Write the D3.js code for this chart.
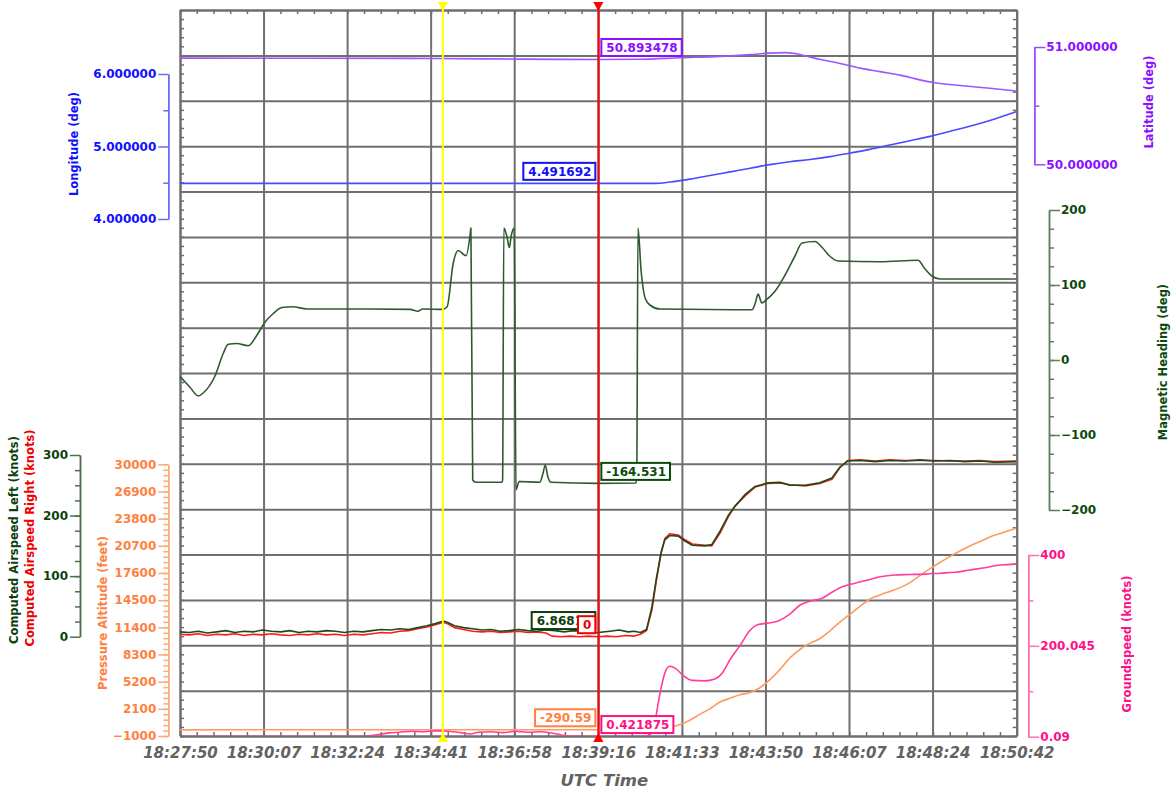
<!DOCTYPE html>
<html>
<head>
<meta charset="utf-8">
<script src="https://cdn.jsdelivr.net/npm/d3@7"></script>
<style>
  body { margin: 0; background: #fff; }
  text { font-family: "DejaVu Sans", Verdana, sans-serif; }
</style>
</head>
<body>
<div id="chart-area"></div>
<script>
const WIDTH = 1176
const HEIGHT = 793
const PLOT = { LEFT: 180, RIGHT: 1016.7, TOP: 10, BOTTOM: 736 }

// time axis
const timeLabels = ["18:27:50", "18:30:07", "18:32:24", "18:34:41", "18:36:58", "18:39:16",
  "18:41:33", "18:43:50", "18:46:07", "18:48:24", "18:50:42"]
const cursorTimes = ["18:35:01", "18:39:16"]

// series: [seconds after 18:27:50, value]
const longitude = [[0, 4.4915], [300, 4.4916], [686, 4.491692], [780, 4.4918], [803, 4.51], [836, 4.55],
  [869, 4.60], [902, 4.65], [935, 4.70], [967, 4.75], [1000, 4.79], [1033, 4.82], [1066, 4.86],
  [1099, 4.91], [1131, 4.96], [1164, 5.02], [1197, 5.08], [1230, 5.14], [1263, 5.21], [1295, 5.28],
  [1328, 5.36], [1371, 5.48]]

const latitude = [[0, 50.905], [197, 50.904], [426, 50.902], [558, 50.897], [686, 50.893478],
  [754, 50.895], [820, 50.908], [886, 50.92], [935, 50.935], [967, 50.948], [992, 50.952],
  [1008, 50.945], [1025, 50.925], [1049, 50.895], [1082, 50.86], [1115, 50.82], [1148, 50.79],
  [1181, 50.76], [1213, 50.72], [1238, 50.695], [1279, 50.672], [1328, 50.648], [1371, 50.625]]

const heading = [[0, -22], [16, -36], [30, -48], [38, -44], [57, -22], [71, 9], [79, 21], [93, 22],
  [112, 19], [126, 33], [139, 50], [153, 62], [167, 70], [185, 71], [208, 68], [312, 68], [377, 67.5],
  [390, 65], [398, 68], [431, 67.5], [438, 71], [448, 129], [456, 146], [469, 139], [476, 169],
  [477, 176], [480, -160], [485, -163], [528, -163], [529, -160], [531, 176], [536, 165], [540, 150],
  [543, 165], [548, 176], [551, -173], [556, -162], [590, -163], [595, -152], [599, -140], [603, -155],
  [608, -163], [686, -164.531], [748, -164], [749, -150], [751, 176], [756, 120], [763, 82], [771, 73],
  [787, 68], [938, 67], [943, 75], [948, 88], [954, 76], [961, 80], [976, 92], [992, 113], [1008, 138],
  [1020, 156], [1041, 158], [1053, 150], [1066, 138], [1079, 132], [1148, 131], [1210, 133],
  [1222, 121], [1233, 112], [1246, 108], [1372, 108]]

const airspeedLeft = [[0, 8], [15, 7], [30, 9], [45, 6], [60, 8], [75, 10], [90, 7], [105, 9], [120, 8],
  [135, 11], [150, 9], [165, 8], [180, 10], [195, 7], [210, 9], [225, 8], [240, 10], [255, 9], [270, 7],
  [285, 9], [300, 8], [315, 10], [330, 12], [345, 11], [360, 13], [375, 12], [390, 15], [405, 18],
  [420, 22], [432, 26], [440, 23], [450, 18], [465, 15], [480, 13], [495, 11], [510, 12], [525, 9],
  [540, 10], [555, 12], [570, 10], [585, 9], [600, 11], [615, 10], [630, 8], [645, 10], [660, 9],
  [675, 7], [686, 6.868], [705, 9], [720, 11], [735, 8], [745, 9], [755, 7], [765, 12], [767, 20],
  [774, 50], [781, 95], [789, 140], [795, 160], [803, 167], [817, 166], [828, 158], [840, 151],
  [861, 150], [872, 152], [886, 175], [899, 200], [910, 215], [927, 235], [943, 248], [964, 254],
  [984, 255], [1000, 250], [1025, 250], [1049, 254], [1069, 262], [1082, 280], [1095, 290],
  [1115, 291], [1140, 289], [1164, 291], [1189, 290], [1213, 292], [1238, 290], [1263, 291],
  [1287, 289], [1312, 290], [1336, 288], [1371, 289]]

const airspeedRight = [[0, 4], [15, 3], [30, 5], [45, 2], [60, 4], [75, 3], [90, 5], [105, 2], [120, 4],
  [135, 3], [150, 5], [165, 3], [180, 2], [195, 4], [210, 3], [225, 5], [240, 3], [255, 4], [270, 2],
  [285, 4], [300, 3], [315, 5], [330, 7], [345, 6], [360, 9], [375, 10], [390, 13], [405, 16], [420, 20],
  [432, 24], [440, 21], [450, 15], [465, 12], [480, 9], [495, 8], [510, 9], [525, 7], [540, 8], [555, 9],
  [570, 7], [585, 8], [600, 6], [610, 1], [625, 0], [640, 1], [655, 0], [670, 1], [686, 0], [700, 1],
  [715, 0], [730, 2], [745, 1], [755, 4], [765, 10], [767, 18], [774, 45], [781, 92], [789, 138],
  [795, 162], [803, 170], [817, 168], [828, 160], [840, 153], [861, 151], [872, 150], [886, 172],
  [899, 198], [910, 216], [927, 233], [943, 247], [964, 253], [984, 254], [1000, 251], [1025, 249],
  [1049, 253], [1069, 260], [1082, 279], [1095, 291], [1115, 292], [1140, 290], [1164, 292],
  [1189, 291], [1213, 291], [1238, 291], [1263, 290], [1287, 290], [1312, 291], [1336, 289], [1371, 290]]

const pressureAltitude = [[0, -300], [100, -295], [200, -290], [300, -292], [400, -288], [500, -291],
  [600, -290], [686, -290.59], [760, -292], [780, -270], [790, -220], [800, -120], [807, 20], [820, 300],
  [836, 800], [853, 1500], [869, 2100], [886, 2900], [902, 3300], [918, 3700], [935, 3950], [951, 4500],
  [967, 5400], [984, 6600], [1000, 7900], [1017, 8900], [1033, 9600], [1049, 10100], [1066, 11000],
  [1082, 12000], [1099, 12900], [1115, 13800], [1131, 14600], [1148, 15100], [1164, 15500],
  [1180, 15900], [1197, 16500], [1213, 17300], [1230, 18100], [1246, 18800], [1263, 19500],
  [1279, 20100], [1296, 20700], [1312, 21200], [1328, 21700], [1345, 22100], [1371, 22700]]

const groundspeed = [[0, 0.4], [300, 0.5], [320, 4], [340, 8], [360, 10], [380, 12], [400, 11],
  [420, 13], [440, 12], [460, 9], [476, 6], [490, 10], [510, 11], [530, 9], [550, 12], [570, 10],
  [590, 11], [610, 8], [625, 4], [640, 1], [686, 0.421875], [760, 0.5], [771, 5], [779, 35], [787, 95],
  [795, 140], [803, 155], [813, 150], [825, 135], [840, 124], [861, 123], [877, 127], [889, 140],
  [902, 170], [918, 200], [935, 235], [948, 247], [964, 250], [981, 255], [1000, 270], [1017, 290],
  [1033, 298], [1053, 305], [1069, 318], [1086, 330], [1107, 338], [1128, 345], [1148, 352],
  [1172, 356], [1197, 357], [1222, 358], [1246, 360], [1271, 362], [1295, 367], [1320, 372],
  [1345, 378], [1371, 380]]

// axis ticks
const lonTicks = [4, 5, 6]
const latTicks = [50, 51]
const headingTicks = [-200, -100, 0, 100, 200]
const airspeedTicks = [0, 100, 200, 300]
const altitudeTicks = [-1000, 2100, 5200, 8300, 11400, 14500, 17600, 20700, 23800, 26900, 30000]
const groundspeedTicks = [0.09, 200.045, 400]

// cursor readouts at the red cursor
const readoutLabels = ["50.893478", "4.491692", "-164.531", "6.86816", "0", "-290.59", "0.421875"]
const readoutValues = [50.893478, 4.491692, -164.531, 6.86816, 0, -290.59, 0.421875]

const GRID = "#6f6f6f"
const C = {
  lon: { text: "#1010ff", line: "#4a4aff", axis: "#6a6aff" },
  lat: { text: "#8a10ff", line: "#9d55ff", axis: "#9a4dff" },
  hdg: { text: "#0c4a0c", line: "#2f5a2f", axis: "#5e7f5e" },
  airL: { text: "#0c3f0c", line: "#1d4a1d", axis: "#4e6e4e" },
  airR: { text: "#ee0000", line: "#ff1a1a" },
  alt: { text: "#ff8040", line: "#ff9a60", axis: "#ffaa78" },
  gs: { text: "#ff1088", line: "#ff3d9a", axis: "#ff70b0" }
}

const startSec = (() => { const [h, m, s] = timeLabels[0].split(":").map(Number); return h * 3600 + m * 60 + s })()
const toSec = str => { const [h, m, s] = str.split(":").map(Number); return h * 3600 + m * 60 + s - startSec }

const svg = d3.select("#chart-area").append("svg")
  .attr("width", WIDTH)
  .attr("height", HEIGHT)

const x = d3.scaleLinear()
  .domain([0, toSec(timeLabels[timeLabels.length - 1])])
  .range([PLOT.LEFT, PLOT.RIGHT])
const gridY = d3.scaleLinear().domain([0, 16]).range([PLOT.BOTTOM, PLOT.TOP])

const yLon = d3.scaleLinear().domain([4, 6]).range([219, 74])
const yLat = d3.scaleLinear().domain([50, 51]).range([164.3, 47])
const yHdg = d3.scaleLinear().domain([-200, 200]).range([510, 210])
const yAir = d3.scaleLinear().domain([0, 300]).range([636.7, 455])
const yAlt = d3.scaleLinear().domain([-1000, 30000]).range([736, 464.3])
const yGs = d3.scaleLinear().domain([0.09, 400]).range([736.7, 555])

// grid
const majorT = timeLabels.map(toSec)
const span = x.domain()[1]
const minorT = d3.range(0, 51).map(i => i * span / 50)
const minorRows = d3.range(0, 81).map(i => i / 5)

svg.append("g")
  .attr("transform", `translate(0,${PLOT.BOTTOM})`)
  .call(d3.axisBottom(x).tickValues(majorT).tickSize(-(PLOT.BOTTOM - PLOT.TOP)).tickFormat(""))
  .call(g => g.select(".domain").remove())
  .selectAll("line").attr("stroke", GRID).attr("stroke-width", 2)

svg.append("g")
  .attr("transform", `translate(${PLOT.LEFT},0)`)
  .call(d3.axisLeft(gridY).ticks(16).tickSize(-(PLOT.RIGHT - PLOT.LEFT)).tickFormat(""))
  .call(g => g.select(".domain").remove())
  .selectAll("line").attr("stroke", GRID).attr("stroke-width", 2)

// frame ticks
const frameAxes = [
  [d3.axisTop(x).tickValues(minorT), `translate(0,${PLOT.TOP})`],
  [d3.axisBottom(x).tickValues(minorT), `translate(0,${PLOT.BOTTOM})`],
  [d3.axisLeft(gridY).tickValues(minorRows), `translate(${PLOT.LEFT},0)`],
  [d3.axisRight(gridY).tickValues(minorRows), `translate(${PLOT.RIGHT},0)`]
]
frameAxes.forEach(([ax, tr]) => {
  svg.append("g").attr("transform", tr)
    .call(ax.tickSize(-4).tickSizeOuter(0).tickFormat(""))
    .call(g => g.select(".domain").attr("stroke", GRID).attr("stroke-width", 2))
    .selectAll(".tick line").attr("stroke", GRID).attr("stroke-width", 1.5)
})

// x labels
svg.append("g")
  .attr("transform", `translate(0,${PLOT.BOTTOM})`)
  .call(d3.axisBottom(x).tickValues(majorT).tickSize(0).tickPadding(11)
    .tickFormat((d, i) => timeLabels[i]))
  .call(g => g.select(".domain").remove())
  .selectAll("text")
  .attr("fill", "#626262")
  .attr("font-size", "15px")
  .attr("font-weight", "bold")
  .attr("font-style", "italic")

svg.append("text")
  .attr("x", (PLOT.LEFT + PLOT.RIGHT) / 2 + 6)
  .attr("y", 786)
  .attr("text-anchor", "middle")
  .attr("fill", "#626262")
  .attr("font-size", "16.5px")
  .attr("font-weight", "bold")
  .attr("font-style", "italic")
  .text("UTC Time")

// y axes
function drawAxis(scale, side, xPos, majors, minors, fmt, col) {
  const make = side === "left" ? d3.axisLeft : d3.axisRight
  const g = svg.append("g").attr("transform", `translate(${xPos},0)`)
  g.append("g").call(make(scale).tickValues(minors).tickSize(5).tickSizeOuter(0).tickFormat(""))
  g.append("g").call(make(scale).tickValues(majors).tickSize(side === "left" ? 10 : 11)
    .tickPadding(side === "left" ? 2 : 1).tickSizeOuter(0).tickFormat(fmt))
  g.selectAll("path, line").attr("stroke", col.axis).attr("stroke-width", 1.5)
  g.selectAll("text")
    .attr("fill", col.text)
    .attr("font-size", "12px")
    .attr("font-weight", "bold")
}

const f6 = d3.format(".6f")
drawAxis(yLon, "left", 168.3, lonTicks, [4.5, 5.5], f6, C.lon)
drawAxis(yLat, "right", 1034.3, latTicks, [50.5], f6, C.lat)
drawAxis(yHdg, "right", 1049, headingTicks, d3.range(-175, 200, 25), d3.format("d"), C.hdg)
drawAxis(yAir, "left", 80, airspeedTicks, d3.range(25, 300, 25), d3.format("d"), C.airL)
drawAxis(yAlt, "left", 168.3, altitudeTicks, d3.range(-1000, 30001, 620), d3.format("d"), C.alt)
drawAxis(yGs, "right", 1028.3, groundspeedTicks, [100.0675, 300.0225], d => String(d), C.gs)

// axis titles
const titles = [
  ["Longitude (deg)", 74, 144, C.lon.text],
  ["Latitude (deg)", 1149, 102, C.lat.text],
  ["Magnetic Heading (deg)", 1162.5, 362, C.hdg.text],
  ["Groundspeed (knots)", 1127, 644, C.gs.text],
  ["Pressure Altitude (feet)", 103, 613, C.alt.text],
  ["Computed Airspeed Left (knots)", 14, 540, C.airL.text],
  ["Computed Airspeed Right (knots)", 30, 538, C.airR.text]
]
svg.selectAll(".title")
  .data(titles)
  .join("text")
  .attr("class", "title")
  .attr("transform", d => `translate(${d[1]},${d[2]}) rotate(-90)`)
  .attr("text-anchor", "middle")
  .attr("dy", "0.35em")
  .attr("fill", d => d[3])
  .attr("font-size", "11.5px")
  .attr("font-weight", "bold")
  .text(d => d[0])

// lines
svg.append("clipPath").attr("id", "plot-clip")
  .append("rect")
  .attr("x", PLOT.LEFT).attr("y", PLOT.TOP)
  .attr("width", PLOT.RIGHT - PLOT.LEFT).attr("height", PLOT.BOTTOM - PLOT.TOP)

const series = [
  [latitude, yLat, C.lat.line, d3.curveMonotoneX],
  [longitude, yLon, C.lon.line, d3.curveMonotoneX],
  [heading, yHdg, C.hdg.line, d3.curveMonotoneX],
  [pressureAltitude, yAlt, C.alt.line, d3.curveMonotoneX],
  [groundspeed, yGs, C.gs.line, d3.curveMonotoneX],
  [airspeedRight, yAir, C.airR.line, d3.curveLinear],
  [airspeedLeft, yAir, C.airL.line, d3.curveLinear]
]
const lines = svg.append("g").attr("clip-path", "url(#plot-clip)")
series.forEach(([data, scale, color, curve]) => {
  lines.append("path")
    .datum(data)
    .attr("fill", "none")
    .attr("stroke", color)
    .attr("stroke-width", 1.6)
    .attr("stroke-linejoin", "round")
    .attr("d", d3.line().x(d => x(d[0])).y(d => scale(d[1])).curve(curve))
})

// cursors
const cursorColors = ["#ffff00", "#ff0000"]
cursorTimes.forEach((t, i) => {
  const cx = x(toSec(t))
  svg.append("line")
    .attr("x1", cx).attr("x2", cx)
    .attr("y1", PLOT.TOP - 4).attr("y2", PLOT.BOTTOM + 2)
    .attr("stroke", cursorColors[i]).attr("stroke-width", 2)
  svg.append("path")
    .attr("d", d3.symbol(d3.symbolTriangle, 45)())
    .attr("transform", `translate(${cx},5) rotate(180)`)
    .attr("fill", cursorColors[i])
  svg.append("path")
    .attr("d", d3.symbol(d3.symbolTriangle, 45)())
    .attr("transform", `translate(${cx},739)`)
    .attr("fill", cursorColors[i])
})

// readout boxes
const readScales = [yLat, yLon, yHdg, yAir, yAir, yAlt, yGs]
const readColors = [C.lat.text, C.lon.text, C.hdg.text, C.airL.text, C.airR.text, C.alt.text, C.gs.text]
const readSide = ["right", "left", "right", "left", "left", "left", "right"]
const cursorX = x(toSec(cursorTimes[1]))
readoutLabels.forEach((label, i) => {
  const bottom = readScales[i](readoutValues[i]) - 3.5
  const g = svg.append("g")
  const rect = g.append("rect")
  const txt = g.append("text")
    .attr("y", bottom - 4)
    .attr("fill", readColors[i])
    .attr("font-size", "12px")
    .attr("font-weight", "bold")
    .text(label)
  const w = txt.node().getComputedTextLength() + 9
  const left = readSide[i] === "right" ? cursorX + 3 : cursorX - 3 - w
  txt.attr("x", left + 5)
  rect.attr("x", left).attr("y", bottom - 17)
    .attr("width", w).attr("height", 17)
    .attr("fill", "#fff")
    .attr("stroke", readColors[i])
    .attr("stroke-width", 2)
})
</script>
</body>
</html>
